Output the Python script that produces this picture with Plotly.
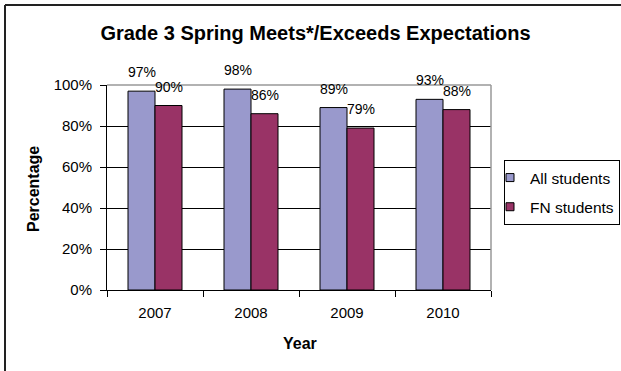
import plotly.graph_objects as go

years = ["2007", "2008", "2009", "2010"]
all_students = [0.97, 0.98, 0.89, 0.93]
fn_students = [0.90, 0.86, 0.79, 0.88]
series_names = ["All students", "FN students"]
series_colors = ["#9999CC", "#993366"]
y_ticks = [0, 0.2, 0.4, 0.6, 0.8, 1.0]
y_tick_labels = ["0%", "20%", "40%", "60%", "80%", "100%"]

W, H = 621, 371
L, R, T, B = 107, 130, 85, 81
FONT = "Arial, Liberation Sans, sans-serif"

fig = go.Figure()
for name, vals, col in zip(series_names, [all_students, fn_students], series_colors):
    fig.add_trace(go.Bar(
        x=years, y=vals, name=name, legendgroup=name, showlegend=False,
        marker=dict(color=col, line=dict(color="black", width=1)),
    ))
    # legend proxies with small square markers
    fig.add_trace(go.Scatter(
        x=[None], y=[None], mode="markers", name=name, legendgroup=name,
        marker=dict(symbol="square", size=8, color=col, line=dict(color="black", width=1)),
    ))

pw = W - L - R
bar_px = pw / len(years) * (1 - 0.4375) / 2
annotations = []
for vals, sgn in [(all_students, -1), (fn_students, 1)]:
    for i, v in enumerate(vals):
        annotations.append(dict(
            x=i, y=v, xref="x", yref="y", text=f"{round(v*100)}%",
            showarrow=False, yanchor="bottom", xanchor="center",
            xshift=sgn * bar_px / 2, yshift=9,
            font=dict(family=FONT, size=14, color="black"),
        ))

def px_x(px):
    return (px - L) / pw

def px_y(py):
    return (H - B - py) / (H - T - B)

annotations.append(dict(
    x=px_x(300), y=px_y(343), xref="paper", yref="paper", text="<b>Year</b>",
    showarrow=False, xanchor="center", yanchor="middle",
    font=dict(family=FONT, size=16, color="black"),
))
annotations.append(dict(
    x=px_x(33), y=px_y(189), xref="paper", yref="paper", text="<b>Percentage</b>",
    showarrow=False, xanchor="center", yanchor="middle", textangle=-90,
    font=dict(family=FONT, size=16, color="black"),
))

shapes = [
    # plot area grey border top/right
    dict(type="line", xref="paper", yref="paper", x0=0, x1=1, y0=1, y1=1,
         line=dict(color="#999999", width=1.5)),
    dict(type="line", xref="paper", yref="paper", x0=1, x1=1, y0=0, y1=1,
         line=dict(color="#999999", width=1.5)),
    # outer chart border left/top
    dict(type="line", xref="paper", yref="paper", x0=px_x(5), x1=px_x(640),
         y0=px_y(5), y1=px_y(5), line=dict(color="#222222", width=2)),
    dict(type="line", xref="paper", yref="paper", x0=px_x(5), x1=px_x(5),
         y0=px_y(5), y1=px_y(400), line=dict(color="#222222", width=2)),
]

fig.update_layout(
    width=W, height=H,
    margin=dict(l=L, r=R, t=T, b=B, pad=0, autoexpand=False),
    paper_bgcolor="white", plot_bgcolor="white",
    barmode="group", bargap=0.4375, bargroupgap=0,
    title=dict(text="<b>Grade 3 Spring Meets*/Exceeds Expectations</b>",
               x=315.5 / W, xanchor="center", y=1 - 33 / H, yanchor="middle",
               font=dict(family=FONT, size=20, color="black")),
    xaxis=dict(type="category", categoryorder="array", categoryarray=years,
               range=[-0.5, len(years) - 0.5],
               showline=True, linecolor="black", linewidth=1, ticks="outside",
               tickson="boundaries", ticklen=6, tickcolor="black",
               ticklabelstandoff=9,
               tickfont=dict(family=FONT, size=15, color="black"), showgrid=False),
    yaxis=dict(range=[0, 1], tickvals=y_ticks, ticktext=y_tick_labels,
               showline=True, linecolor="black", linewidth=1, ticks="outside",
               ticklen=6, tickcolor="black", showgrid=True, gridcolor="black",
               gridwidth=1, zeroline=False, ticklabelstandoff=5,
               tickfont=dict(family=FONT, size=15, color="black")),
    legend=dict(x=px_x(504), y=px_y(160), xanchor="left", yanchor="top",
                bordercolor="black", borderwidth=1, bgcolor="white",
                font=dict(family=FONT, size=15.5, color="black"),
                traceorder="grouped", tracegroupgap=6, itemwidth=30,
                indentation=-15),
    annotations=annotations,
    shapes=shapes,
    showlegend=True,
)

fig.write_html("out.html")
